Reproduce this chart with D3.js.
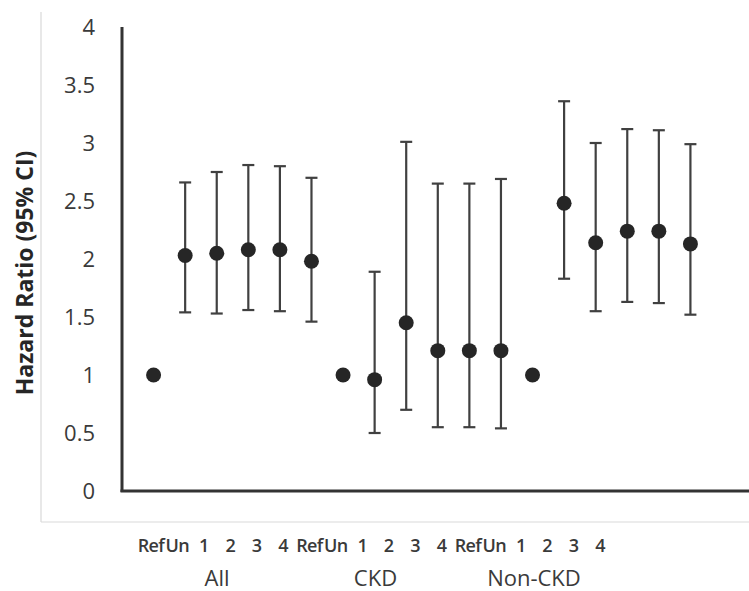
<!DOCTYPE html>
<html>
<head>
<meta charset="utf-8">
<script src="https://cdn.jsdelivr.net/npm/d3@7"></script>
<style>
  body { margin: 0; background: #fff; }
  text { font-family: "Open Sans", "Noto Sans", sans-serif; fill: #3a3a3a; }
</style>
</head>
<body>
<svg id="chart" width="749" height="591"></svg>
<script>
const width = 749;
const height = 591;

// Data
const groups = ["All", "CKD", "Non-CKD"];
const categories = ["Ref", "Un", "1", "2", "3", "4"];
const hr    = [1, 2.03, 2.05, 2.08, 2.08, 1.98,   1, 0.96, 1.45, 1.21, 1.21, 1.21,   1, 2.48, 2.14, 2.24, 2.24, 2.13];
const lower = [null, 1.54, 1.53, 1.56, 1.55, 1.46,   null, 0.50, 0.70, 0.55, 0.55, 0.54,   null, 1.83, 1.55, 1.63, 1.62, 1.52];
const upper = [null, 2.66, 2.75, 2.81, 2.80, 2.70,   null, 1.89, 3.01, 2.65, 2.65, 2.69,   null, 3.36, 3.00, 3.12, 3.11, 2.99];
const yTicks = [0, 0.5, 1, 1.5, 2, 2.5, 3, 3.5, 4];

// one entry per plotted point
const points = hr.map((v, i) => ({
  idx: i,
  group: groups[Math.floor(i / categories.length)],
  label: categories[i % categories.length],
  hr: v, lo: lower[i], hi: upper[i]
}));

const svg = d3.select("#chart");

// Scales
const y = d3.scaleLinear().domain([0, 4]).range([491, 27]);
const x = d3.scalePoint().domain(d3.range(points.length)).range([122, 722]).padding(1);
// the category labels under the axis are packed tighter than the points
const xLabel = d3.scalePoint().domain(d3.range(points.length)).range([151, 600]);

// light frame around the chart
svg.append("line").attr("x1", 41).attr("x2", 41).attr("y1", 12).attr("y2", 522)
  .attr("stroke", "#d9d9d9").attr("stroke-width", 1.2);
svg.append("line").attr("x1", 41).attr("x2", width).attr("y1", 522).attr("y2", 522)
  .attr("stroke", "#d9d9d9").attr("stroke-width", 1.2);

// Y axis labels (no tick marks)
svg.append("g").selectAll("text")
  .data(yTicks)
  .join("text")
  .attr("x", 95)
  .attr("y", d => y(d))
  .attr("dy", "0.36em")
  .attr("text-anchor", "end")
  .style("font-size", "22px")
  .style("font-weight", 500)
  .text(d => d);

// Axis lines
svg.append("line").attr("x1", 122).attr("x2", 122).attr("y1", y(4)).attr("y2", y(0) + 1)
  .attr("stroke", "#333").attr("stroke-width", 3);
svg.append("line").attr("x1", 120.5).attr("x2", width).attr("y1", y(0)).attr("y2", y(0))
  .attr("stroke", "#333").attr("stroke-width", 3);

// Y axis title
svg.append("text")
  .attr("transform", `translate(33,${273}) rotate(-90)`)
  .attr("text-anchor", "middle")
  .style("font-size", "23px")
  .style("font-weight", "bold")
  .style("fill", "#262626")
  .text("Hazard Ratio (95% CI)");

// Error bars
const bars = svg.append("g").selectAll("g")
  .data(points.filter(d => d.lo != null))
  .join("g")
  .attr("stroke", "#404040")
  .attr("stroke-width", 2.2);

bars.append("line")
  .attr("x1", d => x(d.idx)).attr("x2", d => x(d.idx))
  .attr("y1", d => y(d.hi)).attr("y2", d => y(d.lo));
bars.append("line")
  .attr("x1", d => x(d.idx) - 6).attr("x2", d => x(d.idx) + 6)
  .attr("y1", d => y(d.hi)).attr("y2", d => y(d.hi));
bars.append("line")
  .attr("x1", d => x(d.idx) - 6).attr("x2", d => x(d.idx) + 6)
  .attr("y1", d => y(d.lo)).attr("y2", d => y(d.lo));

// Point estimates
svg.append("g").selectAll("circle")
  .data(points)
  .join("circle")
  .attr("cx", d => x(d.idx))
  .attr("cy", d => y(d.hr))
  .attr("r", 7.5)
  .attr("fill", "#262626");

// Category labels
svg.append("g").selectAll("text")
  .data(points)
  .join("text")
  .attr("x", d => xLabel(d.idx))
  .attr("y", 552)
  .attr("text-anchor", "middle")
  .style("font-size", "18px")
  .style("font-weight", 600)
  .style("letter-spacing", "-0.6px")
  .text(d => d.label);

// Group labels
svg.append("g").selectAll("text")
  .data(groups)
  .join("text")
  .attr("x", g => d3.mean(points.filter(p => p.group === g), p => xLabel(p.idx)))
  .attr("y", 586)
  .attr("text-anchor", "middle")
  .style("font-size", "22px")
  .style("font-weight", 500)
  .text(g => g);
</script>
</body>
</html>
